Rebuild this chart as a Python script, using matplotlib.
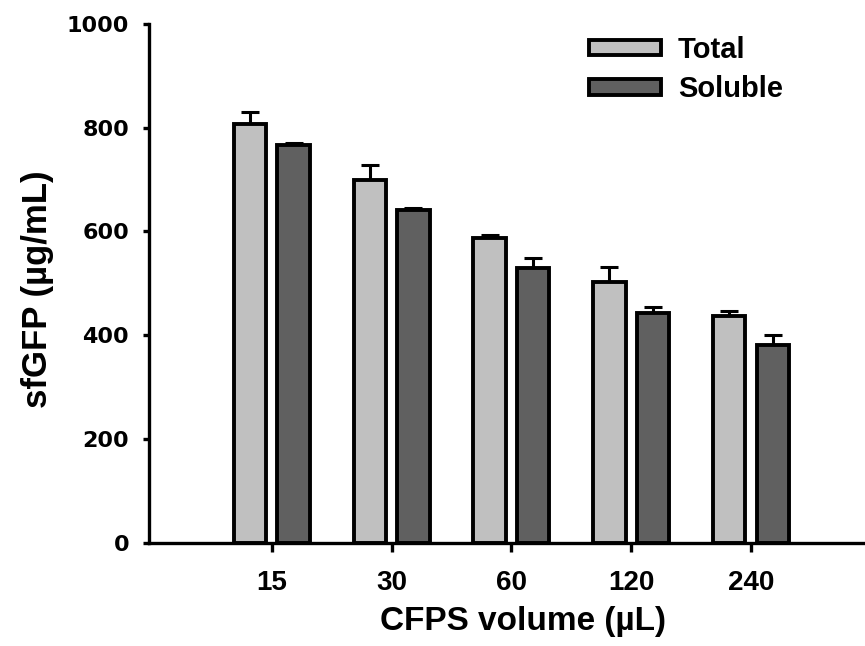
import matplotlib
matplotlib.use("Agg")
import matplotlib.pyplot as plt
from matplotlib import font_manager as fm
import numpy as np

categories = ["15", "30", "60", "120", "240"]
total = [808, 700, 587, 502, 437]
total_err = [23, 28, 6, 30, 9]
soluble = [767, 642, 529, 443, 381]
soluble_err = [3, 3, 20, 12, 20]

names = {f.name for f in fm.fontManager.ttflist}
main_font = "Liberation Sans" if "Liberation Sans" in names else "DejaVu Sans"

plt.rcParams["font.family"] = [main_font, "DejaVu Sans"]
plt.rcParams["font.weight"] = "bold"

fig = plt.figure(figsize=(8.65, 6.46), dpi=100)
ax = fig.add_axes([0.1726, 0.1602, 0.8274, 0.8026])

x = np.arange(len(categories))
w = 0.27
off = 0.182
lw = 2.8
ax.bar(x - off, total, w, color="#c0c0c0", edgecolor="black", linewidth=lw, label="Total", zorder=2)
ax.bar(x + off, soluble, w, color="#606060", edgecolor="black", linewidth=lw, label="Soluble", zorder=2)
ax.errorbar(x - off, total, yerr=[np.zeros(len(total)), total_err], fmt="none", ecolor="black",
            elinewidth=2.2, capsize=6.6, capthick=2.2, zorder=1)
ax.errorbar(x + off, soluble, yerr=[np.zeros(len(soluble)), soluble_err], fmt="none", ecolor="black",
            elinewidth=2.2, capsize=6.6, capthick=2.2, zorder=1)

ax.set_xlim(-1.022, 4.952)
ax.set_ylim(0, 1000)
ax.set_yticks([0, 200, 400, 600, 800, 1000])
ax.set_xticks(x)
ax.set_xticklabels(categories, fontsize=20, fontweight="bold")
for t in ax.get_yticklabels():
    t.set_fontsize(16)
    t.set_fontweight("bold")
    t.set_fontfamily("DejaVu Sans")

for s in ["top", "right"]:
    ax.spines[s].set_visible(False)
for s in ["left", "bottom"]:
    ax.spines[s].set_linewidth(2.4)
ax.tick_params(axis="y", length=4.5, width=2.4, pad=10)
ax.tick_params(axis="x", length=6.5, width=2.4, pad=13)

ax.set_xlabel("CFPS volume (µL)", fontsize=24, fontweight="bold")
ax.xaxis.set_label_coords(0.522, -0.122)
ax.set_ylabel("sfGFP (µg/mL)", fontsize=25, fontweight="bold")
ax.yaxis.set_label_coords(-0.133, 0.488)

leg = ax.legend(loc="upper left", bbox_to_anchor=(0.6137, 0.977), frameon=False, fontsize=21,
                handlelength=2.47, handleheight=0.45, handletextpad=0.6, labelspacing=0.39,
                borderpad=0, borderaxespad=0)
for t in leg.get_texts():
    t.set_fontweight("bold")

fig.savefig("out.png", dpi=100)
